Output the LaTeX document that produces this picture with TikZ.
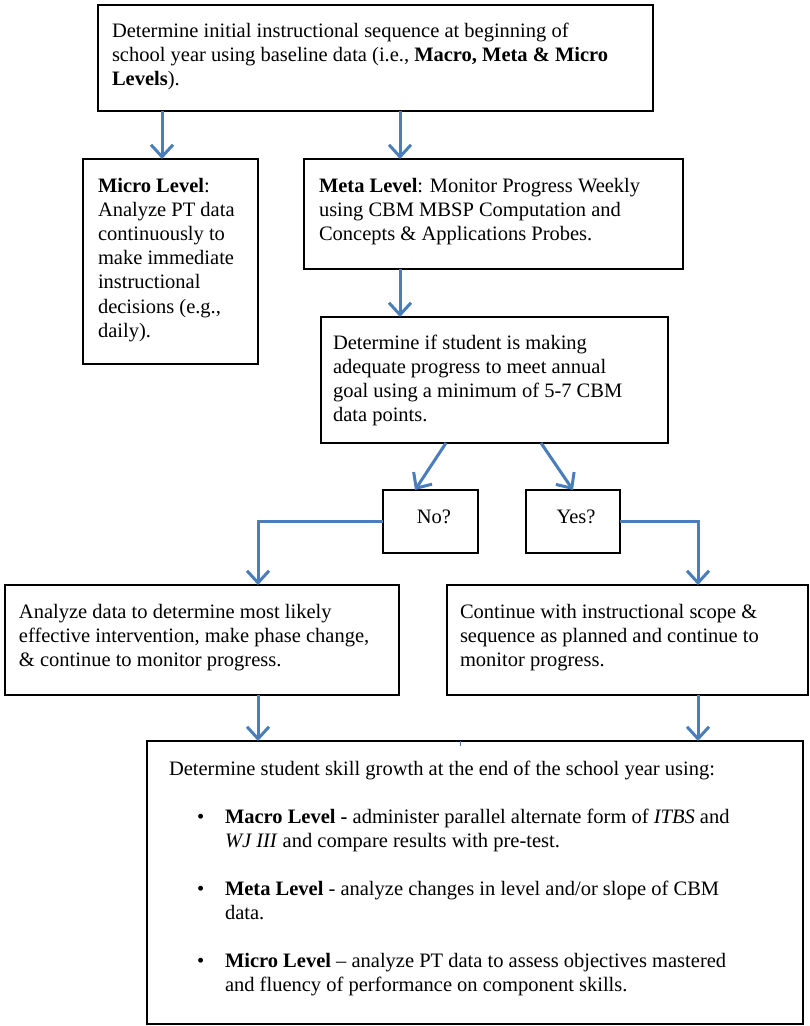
\documentclass[tikz,border=0pt]{standalone}
\usepackage{fontspec}
\setmainfont{Liberation Serif}
\usetikzlibrary{arrows.meta}
\definecolor{arrblue}{HTML}{4A7EBB}
\tikzset{
  box/.style={draw=black, line width=1.8pt, inner sep=0pt, outer sep=0pt},
  txt/.style={anchor=base west, inner sep=0pt, outer sep=0pt, align=left,
    font=\fontsize{20.5}{24.2}\selectfont},
  arr/.style={draw=arrblue, line width=3pt, line join=miter,
    -{Straight Barb[length=12pt,width=22pt]}}
}
\begin{document}
\begin{tikzpicture}[x=1pt,y=-1pt]
\useasboundingbox[fill=white] (0,0) rectangle (810,1026);

% boxes
\node[box, minimum width=555pt, minimum height=106pt] (top) at (375.5,58) {};
\node[box, minimum width=175pt, minimum height=205pt] (micro) at (170.5,261.5) {};
\node[box, minimum width=379pt, minimum height=110pt] (meta) at (493.5,214) {};
\node[box, minimum width=347pt, minimum height=126pt] (dec) at (494.5,380) {};
\node[box, minimum width=95pt, minimum height=63pt] (no) at (430.5,521.5) {};
\node[box, minimum width=94pt, minimum height=63pt] (yes) at (573,521.5) {};
\node[box, minimum width=394pt, minimum height=110pt] (left) at (202,640) {};
\node[box, minimum width=361pt, minimum height=110pt] (right) at (627.5,640) {};
\node[box, minimum width=656pt, minimum height=283pt] (bot) at (475,882.5) {};

% texts (anchored at the baseline of their last line)
\node[txt] (topt) at (112,85.4) {Determine initial instructional sequence at beginning of\\
school year using baseline data (i.e., \textbf{Macro, Meta \& Micro}\\
\textbf{Levels}).};
\node[txt] (microt) at (98,337.2) {\textbf{Micro Level}:\\Analyze PT data\\continuously to\\make immediate\\instructional\\decisions (e.g.,\\daily).};
\node[txt] (metat) at (319,240.4) {\textbf{Meta Level}: Monitor Progress Weekly\\using CBM MBSP Computation and\\Concepts \& Applications Probes.};
\node[txt] (dect) at (333,421.6) {Determine if student is making\\adequate progress to meet annual\\goal using a minimum of 5-7 CBM\\data points.};
\node[txt, anchor=base] (not) at (434,523) {No?};
\node[txt, anchor=base] (yest) at (576,523) {Yes?};
\node[txt] (leftt) at (19,666.4) {Analyze data to determine most likely\\effective intervention, make phase change,\\\& continue to monitor progress.};
\node[txt] (rightt) at (460,666.4) {Continue with instructional scope \&\\sequence as planned and continue to\\monitor progress.};
\node[txt] (bott) at (169,775) {Determine student skill growth at the end of the school year using:};
\node[txt] (b1) at (197,823) {\textbullet};
\node[txt] (i1) at (225,847.2) {\textbf{Macro Level -} administer parallel alternate form of \textit{ITBS} and\\\textit{WJ III} and compare results with pre-test.};
\node[txt] (b2) at (197,895) {\textbullet};
\node[txt] (i2) at (225,919.2) {\textbf{Meta Level} - analyze changes in level and/or slope of CBM\\data.};
\node[txt] (b3) at (197,967) {\textbullet};
\node[txt] (i3) at (225,991.2) {\textbf{Micro Level} -- analyze PT data to assess objectives mastered\\and fluency of performance on component skills.};

% x positions of connectors
\coordinate (xa) at (162,0);
\coordinate (xb) at (400,0);
\coordinate (d1) at (446,0);
\coordinate (n1) at (415,0);
\coordinate (d2) at (541,0);
\coordinate (n2) at (573,0);
\coordinate (xl) at (258,0);
\coordinate (xr) at (698,0);
\coordinate (xt) at (460,0);

% connectors
\draw[arr] (top.south -| xa) -- (micro.north -| xa);
\draw[arr] (top.south -| xb) -- (meta.north -| xb);
\draw[arr] (meta.south -| xb) -- (dec.north -| xb);
\draw[arr] (dec.south -| d1) -- (no.north -| n1);
\draw[arr] (dec.south -| d2) -- (yes.north -| n2);
\draw[arr] (no.west) -- (no.west -| xl) -- (left.north -| xl);
\draw[arr] (yes.east) -- (yes.east -| xr) -- (right.north -| xr);
\draw[arr] (left.south -| xl) -- (bot.north -| xl);
\draw[arr] (right.south -| xr) -- (bot.north -| xr);
\draw[arrblue, line width=1pt] (bot.north -| xt) -- ++(0,5);
\end{tikzpicture}
\end{document}
